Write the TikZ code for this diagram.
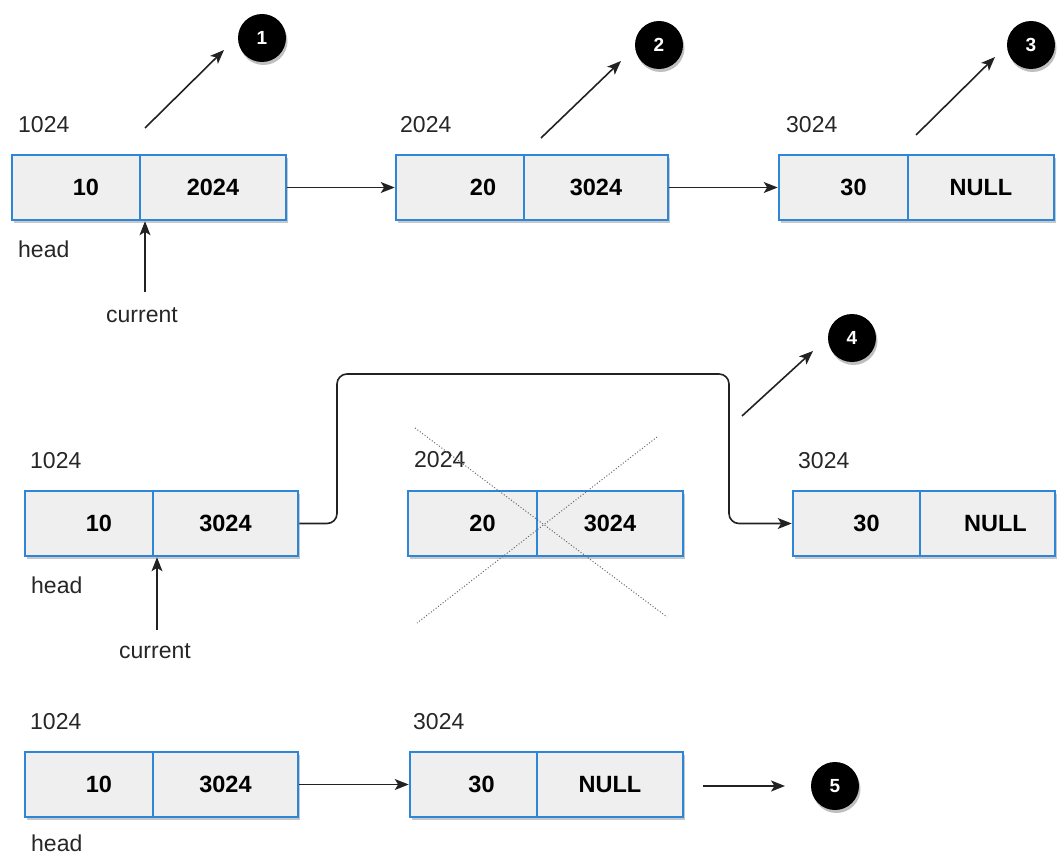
\documentclass[tikz,border=0pt]{standalone}
\usepackage{fontspec}
\setmainfont{Liberation Sans}
\usetikzlibrary{arrows.meta,shadows}
\definecolor{cellfill}{HTML}{EFEFEF}
\definecolor{cellline}{HTML}{2E86D8}
\definecolor{linkline}{HTML}{222222}
\tikzset{
  cell/.style={draw=cellline, line width=2.6pt, fill=cellfill, minimum height=65pt,
    inner sep=0pt, font=\fontsize{23.5}{27}\selectfont\bfseries,
    drop shadow={shadow xshift=1.5pt, shadow yshift=-3pt, opacity=0.22, fill=black}},
  addr/.style={font=\fontsize{23}{27}\selectfont, inner sep=0pt, anchor=west, text=black!85},
  badge/.style={circle, fill=black, minimum size=48pt, inner sep=0pt, text=white,
    font=\fontsize{19}{22}\selectfont\bfseries,
    drop shadow={shadow xshift=1.5pt, shadow yshift=-3pt, opacity=0.25, fill=black}},
  conn/.style={draw=linkline, line width=1.6pt, -{Stealth[length=14pt,width=11pt,inset=3.5pt]}},
  cross/.style={draw=black!60, line width=1pt, dotted}
}
\begin{document}
\begin{tikzpicture}[x=1pt,y=-1pt]
\useasboundingbox (0,0) rectangle (1058,856);

% ---------- first list: 10 -> 20 -> 30 ----------
\node[cell, minimum width=128pt] (a1) at (76,187.5) {\hspace*{20pt}10};
\node[cell, minimum width=146pt] (a2) at (213,187.5) {2024};
\node[cell, minimum width=128pt] (b1) at (460,187.5) {\hspace*{46pt}20};
\node[cell, minimum width=144pt] (b2) at (596,187.5) {3024};
\node[cell, minimum width=129pt] (c1) at (843.5,187.5) {\hspace*{20pt}30};
\node[cell, minimum width=146pt] (c2) at (981,187.5) {NULL};

\node[addr] (la) at (18,125) {1024};
\node[addr] (lb) at (400,125) {2024};
\node[addr] (lc) at (786,125) {3024};
\node[addr] (ha) at (18,249) {head};
\node[addr] (cura) at (106,315) {current};

\draw[conn] (a2.east) -- (b1.west);
\draw[conn] (b2.east) -- (c1.west);
\coordinate (pa) at (145,292);
\draw[conn] (pa) -- (pa |- a1.south);

\node[badge] (n1) at (262,38) {1};
\node[badge] (n2) at (659,45) {2};
\node[badge] (n3) at (1031,45) {3};
\coordinate (s1) at (145,128);  \coordinate (t1) at (224,50);
\coordinate (s2) at (541,138);  \coordinate (t2) at (621,61);
\coordinate (s3) at (916,135);  \coordinate (t3) at (995,57);
\draw[conn] (s1) -- (t1);
\draw[conn] (s2) -- (t2);
\draw[conn] (s3) -- (t3);

% ---------- second list: 20 is bypassed ----------
\node[cell, minimum width=128pt] (d1) at (89,523.5) {\hspace*{20pt}10};
\node[cell, minimum width=145pt] (d2) at (225.5,523.5) {3024};
\node[cell, minimum width=129pt] (e1) at (472.5,523.5) {\hspace*{20pt}20};
\node[cell, minimum width=146pt] (e2) at (610,523.5) {3024};
\node[cell, minimum width=127pt] (f1) at (856.5,523.5) {\hspace*{20pt}30};
\node[cell, minimum width=135pt] (f2) at (987.5,523.5) {\hspace*{16pt}NULL};

\node[addr] (ld) at (30,461) {1024};
\node[addr] (le) at (414,460) {2024};
\node[addr] (lf) at (798,461) {3024};
\node[addr] (hd) at (31,585) {head};
\node[addr] (curd) at (119,651) {current};

\coordinate (pd) at (157,630);
\draw[conn] (pd) -- (pd |- d1.south);
\draw[conn, rounded corners=10pt] (d2.east) -- (337,523.5) -- (337,374)
  -- (729,374) -- (729,523.5) -- (f1.west);

\draw[cross] (415,428) -- (667,617);
\draw[cross] (657,437) -- (417,623);

\node[badge] (n4) at (852,338) {4};
\coordinate (s4) at (742,416);  \coordinate (t4) at (813,351);
\draw[conn] (s4) -- (t4);

% ---------- third list: 10 -> 30 ----------
\node[cell, minimum width=128pt] (g1) at (89,784.5) {\hspace*{20pt}10};
\node[cell, minimum width=145pt] (g2) at (225.5,784.5) {3024};
\node[cell, minimum width=127pt] (h1) at (473.5,784.5) {\hspace*{16pt}30};
\node[cell, minimum width=146pt] (h2) at (610,784.5) {NULL};

\node[addr] (lg) at (30,722) {1024};
\node[addr] (lh) at (413,722) {3024};
\node[addr] (hg) at (31,843) {head};

\draw[conn] (g2.east) -- (h1.west);

\node[badge] (n5) at (835,786) {5};
\coordinate (s5) at (703,786);
\draw[conn] (s5) -- ++(82,0) coordinate (t5);
\end{tikzpicture}
\end{document}
